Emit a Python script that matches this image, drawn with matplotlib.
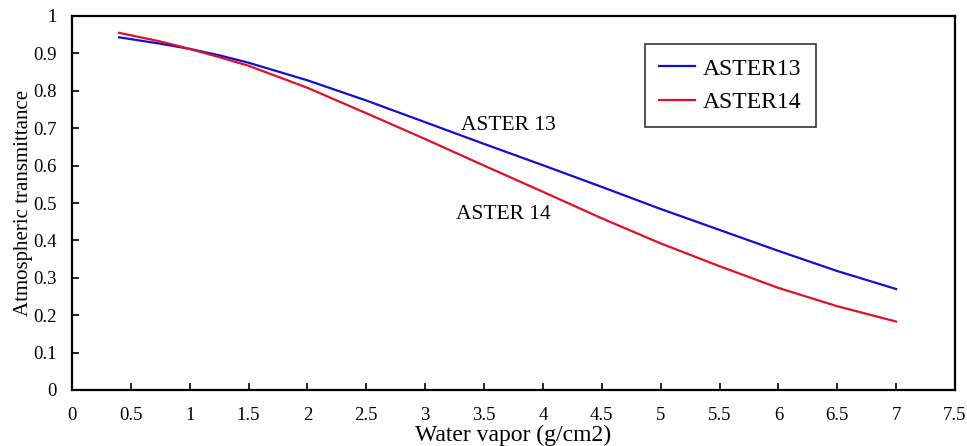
import numpy as np
import matplotlib.pyplot as plt

# water vapor (g/cm2) and transmittance
wv = [0.4, 0.75, 1.0, 1.25, 1.5, 2.0, 2.5, 3.0, 3.5, 4.0, 4.5, 5.0, 5.5, 6.0, 6.5, 7.0]
aster13 = [0.943, 0.926, 0.912, 0.895, 0.875, 0.828, 0.774, 0.716, 0.658, 0.601, 0.543, 0.484, 0.428, 0.372, 0.318, 0.270]
aster14 = [0.955, 0.932, 0.912, 0.890, 0.867, 0.808, 0.740, 0.671, 0.600, 0.530, 0.459, 0.392, 0.331, 0.273, 0.224, 0.183]

xticks = np.arange(0, 7.51, 0.5)
yticks = np.arange(0, 1.01, 0.1)

plt.rcParams['font.family'] = ['Liberation Serif', 'DejaVu Serif']

fig = plt.figure(figsize=(9.67, 4.46), dpi=100)
ax = fig.add_axes([72 / 967, 1 - 390 / 446, (955 - 72) / 967, (390 - 16) / 446])

ax.plot(wv, aster13, color='#1010d0', lw=1.6, label='ASTER13')
ax.plot(wv, aster14, color='#e01028', lw=1.6, label='ASTER14')

ax.set_xlim(0, 7.5)
ax.set_ylim(0, 1)
ax.set_xticks(xticks)
ax.set_xticklabels(['%g' % t for t in xticks])
ax.set_yticks(yticks)
ax.set_yticklabels(['%g' % round(t, 1) for t in yticks])
ax.tick_params(direction='in', labelsize=13.5, length=5, width=1.2)
ax.tick_params(axis='y', pad=11)
ax.tick_params(axis='x', pad=12)
for s in ax.spines.values():
    s.set_linewidth(1.6)

ax.set_xlabel('Water vapor (g/cm2)', fontsize=17, labelpad=1)
ax.set_ylabel('Atmospheric transmittance', fontsize=15, labelpad=0)

ax.text(3.3, 0.706, 'ASTER 13', fontsize=15.5, va='center', ha='left')
ax.text(3.26, 0.468, 'ASTER 14', fontsize=15.5, va='center', ha='left')

leg = ax.legend(loc='upper left', bbox_to_anchor=((645 - 72) / 883, (390 - 44) / 374),
                fontsize=17, frameon=True, fancybox=False, handlelength=1.5,
                handletextpad=0.35, borderpad=0.6, labelspacing=0.5, borderaxespad=0)
leg.get_frame().set_edgecolor('black')
leg.get_frame().set_linewidth(1.2)

fig.savefig('out.png', dpi=100)
